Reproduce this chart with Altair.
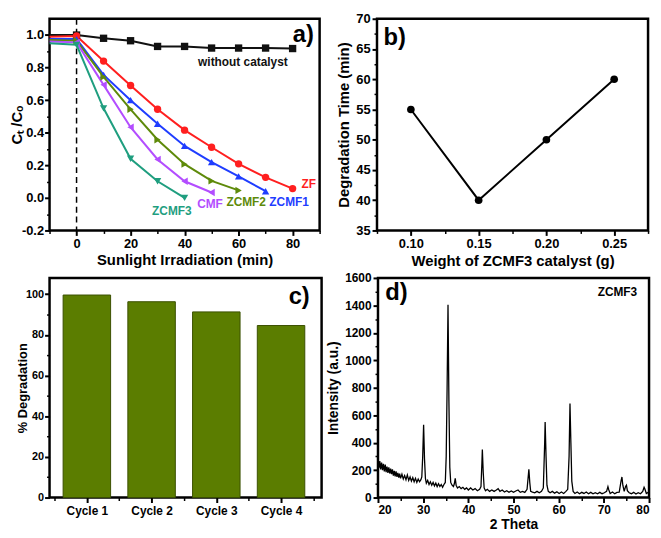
import altair as alt
import pandas as pd

FONT = "Liberation Sans"

# ---------------- panel a data ----------------
a_time = [-10, 0, 10, 20, 30, 40, 50, 60, 70, 80]
a_series = ["without catalyst", "ZF", "ZCMF1", "ZCMF2", "CMF", "ZCMF3"]
a_without = [1.0, 1.0, 0.98, 0.965, 0.93, 0.93, 0.92, 0.92, 0.92, 0.917]
a_zf = [0.99, 0.994, 0.84, 0.69, 0.544, 0.416, 0.311, 0.209, 0.126, 0.057]
a_zcmf1 = [0.975, 0.975, 0.755, 0.60, 0.455, 0.319, 0.22, 0.132, 0.041]
a_zcmf2 = [0.97, 0.965, 0.743, 0.544, 0.357, 0.207, 0.104, 0.046]
a_cmf = [0.96, 0.955, 0.694, 0.434, 0.236, 0.102, 0.033]
a_zcmf3 = [0.95, 0.94, 0.55, 0.24, 0.102, 0.0]
a_values = [a_without, a_zf, a_zcmf1, a_zcmf2, a_cmf, a_zcmf3]
a_colors = ["#111111", "#ff1f1f", "#1f3dff", "#5e8a0a", "#b34dff", "#1f9e7f"]
a_shapes = ["square", "circle", "triangle-up", "triangle-right", "triangle-left", "triangle-down"]
a_label_x = [61.6, 86.0, 78.7, 62.8, 49.4, 35.3]
a_label_y = [0.836, 0.085, -0.027, -0.027, -0.04, -0.08]

# ---------------- panel b data ----------------
b_weight = [0.10, 0.15, 0.20, 0.25]
b_time = [55, 40, 50, 60]

# ---------------- panel c data ----------------
c_cycles = ["Cycle 1", "Cycle 2", "Cycle 3", "Cycle 4"]
c_index = [1, 2, 3, 4]
c_degradation = [99.6, 96.3, 91.3, 84.6]

# ---------------- panel d data ----------------
d_theta = [20.0, 20.2, 20.4, 20.6, 20.8, 21.0, 21.2, 21.4, 21.6, 21.8, 22.0, 22.2, 22.4, 22.6, 22.8,
           23.0, 23.2, 23.4, 23.6, 23.8, 24.0, 24.2, 24.4, 24.6, 24.8, 25.0, 25.3, 25.6, 25.9, 26.2,
           26.5, 26.8, 27.1, 27.4, 27.7, 28.0, 28.3, 28.6, 28.9, 29.2, 29.5, 29.7, 29.9, 30.1, 30.3,
           30.5, 30.7, 31.0, 31.3, 31.6, 31.9, 32.2, 32.5, 32.8, 33.1, 33.4, 33.7, 34.0, 34.3, 34.6,
           34.9, 35.1, 35.3, 35.5, 35.7, 35.9, 36.1, 36.4, 36.7, 36.9, 37.1, 37.3, 37.6, 38.0, 38.4,
           38.8, 39.2, 39.6, 40.0, 40.5, 41.0, 41.5, 42.0, 42.5, 42.8, 43.0, 43.1, 43.3, 43.5, 43.8,
           44.2, 44.7, 45.2, 45.7, 46.2, 46.6, 47.0, 47.5, 48.0, 48.5, 49.0, 49.5, 50.0, 50.5, 51.0,
           51.5, 52.0, 52.5, 53.0, 53.3, 53.4, 53.6, 53.8, 54.2, 54.7, 55.2, 55.7, 56.2, 56.6, 56.9,
           57.0, 57.2, 57.4, 57.7, 58.1, 58.6, 59.1, 59.6, 60.1, 60.6, 61.1, 61.6, 62.0, 62.3, 62.5,
           62.7, 62.9, 63.2, 63.6, 64.1, 64.6, 65.1, 65.6, 66.1, 66.6, 67.1, 67.6, 68.1, 68.6, 69.1,
           69.6, 70.1, 70.6, 70.9, 71.1, 71.4, 71.9, 72.4, 72.9, 73.4, 73.8, 74.0, 74.2, 74.5, 74.8,
           75.0, 75.2, 75.6, 76.1, 76.6, 77.1, 77.6, 78.1, 78.6, 78.9, 79.1, 79.4, 79.8, 80.0]
d_intensity = [280, 215, 265, 205, 255, 200, 245, 190, 240, 185, 225, 180, 220, 175, 210,
               170, 205, 160, 195, 155, 190, 150, 180, 145, 175, 140, 170, 135, 160, 130,
               165, 125, 150, 120, 145, 115, 140, 110, 135, 115, 130, 150, 300, 530, 280,
               140, 105, 125, 95, 115, 90, 110, 85, 105, 80, 100, 80, 95, 75, 95,
               110, 300, 800, 1405, 700, 220, 110, 90, 80, 100, 140, 90, 70, 80, 65,
               75, 60, 70, 55, 70, 55, 65, 50, 60, 80, 250, 350, 180, 70, 50,
               60, 45, 55, 45, 55, 65, 45, 55, 40, 50, 38, 48, 38, 48, 55,
               38, 45, 38, 60, 170, 205, 110, 45, 40, 35, 45, 35, 45, 70, 400,
               550, 300, 90, 45, 35, 45, 32, 42, 30, 40, 30, 45, 60, 300, 685,
               400, 120, 45, 30, 40, 28, 38, 30, 40, 28, 38, 28, 36, 28, 38,
               28, 35, 45, 80, 55, 30, 40, 28, 38, 40, 120, 150, 90, 45, 80,
               90, 50, 35, 28, 38, 26, 36, 28, 45, 75, 60, 30, 38, 30]

# ---------------- shared styling ----------------
WA, WB, WC, WD = 273, 274, 275, 274
H1, H2 = 214, 222
LBL = dict(labelFont=FONT, labelFontWeight="bold", labelColor="black",
           titleFont=FONT, titleFontWeight="bold", titleColor="black",
           tickColor="black", domain=False, grid=False)


def ticksize(test, major=5, minor=3):
    return {"condition": {"test": test, "value": major}, "value": minor}


def tickwidth(test, major=2, minor=1.5):
    return {"condition": {"test": test, "value": major}, "value": minor}


# ================= panel a =================
rows = []
for name, vals in zip(a_series, a_values):
    for t, v in zip(a_time, vals):
        rows.append({"series": name, "t": t, "v": v})
df_a = pd.DataFrame(rows)
df_a_lab = pd.DataFrame({"series": a_series, "t": a_label_x, "v": a_label_y, "txt": a_series})

ta = "datum.value % 20 == 0"
tay = "round(datum.value * 10) % 2 == 0"
xa = alt.X("t:Q", scale=alt.Scale(domain=[-10, 90], nice=False, zero=False),
           axis=alt.Axis(values=list(range(-10, 91, 10)), labelExpr=f"{ta} ? datum.label : ''",
                         tickSize=ticksize(ta), tickWidth=tickwidth(ta), labelFontSize=13,
                         labelPadding=2, title="Sunlight Irradiation (min)", titleFontSize=15,
                         titlePadding=2, **LBL))
ya = alt.Y("v:Q", scale=alt.Scale(domain=[-0.2, 1.1], nice=False, zero=False),
           axis=alt.Axis(values=[round(-0.2 + 0.1 * i, 1) for i in range(13)], format=".1f",
                         labelExpr=f"{tay} ? replace(datum.label, '\u2212', '-') : ''",
                         tickSize=ticksize(tay), tickWidth=tickwidth(tay), labelFontSize=13,
                         labelPadding=1, title="C\u209c /C\u2092", titleFontSize=15,
                         titlePadding=-3, **LBL))
color_a = alt.Color("series:N", scale=alt.Scale(domain=a_series, range=a_colors), legend=None)
shape_a = alt.Shape("series:N", scale=alt.Scale(domain=a_series, range=a_shapes), legend=None)

base_a = alt.Chart(df_a)
rule_a = alt.Chart(pd.DataFrame({"t": [0]})).mark_rule(
    color="black", strokeDash=[6, 4], strokeWidth=1.5).encode(x=xa)
lines_a = base_a.mark_line(strokeWidth=2).encode(x=xa, y=ya, color=color_a, detail="series:N")
pts_a = base_a.transform_filter("datum.t >= 0").mark_point(
    filled=True, size=55, opacity=1).encode(x=xa, y=ya, color=color_a, shape=shape_a)
txt_a = alt.Chart(df_a_lab).mark_text(font=FONT, fontWeight="bold", fontSize=12).encode(
    x=xa, y=ya, text="txt:N", color=color_a)
tag_a = alt.Chart(pd.DataFrame({"t": [84.0], "v": [1.0], "txt": ["a)"]})).mark_text(
    font=FONT, fontWeight="bold", fontSize=24, color="black").encode(x=xa, y=ya, text="txt:N")
panel_a = alt.layer(rule_a, lines_a, pts_a, txt_a, tag_a).properties(width=WA, height=H1)

# ================= panel b =================
df_b = pd.DataFrame({"w": b_weight, "d": b_time})
tb = "round(datum.value * 100) % 5 == 0"
tby = "datum.value % 5 == 0"
xb = alt.X("w:Q", scale=alt.Scale(domain=[0.075, 0.275], nice=False, zero=False),
           axis=alt.Axis(values=[round(0.075 + 0.025 * i, 3) for i in range(9)], format=".2f",
                         labelExpr=f"{tb} ? datum.label : ''", tickSize=ticksize(tb),
                         tickWidth=tickwidth(tb), labelFontSize=13, labelPadding=2,
                         title="Weight of ZCMF3 catalyst (g)", titleFontSize=15, titlePadding=3, **LBL))
yb = alt.Y("d:Q", scale=alt.Scale(domain=[35, 70], nice=False, zero=False),
           axis=alt.Axis(values=[35 + 2.5 * i for i in range(15)],
                         labelExpr=f"{tby} ? datum.label : ''", tickSize=ticksize(tby),
                         tickWidth=tickwidth(tby), labelFontSize=13, labelPadding=2,
                         title="Degradation Time (min)", titleFontSize=15, titlePadding=4, **LBL))
line_b = alt.Chart(df_b).mark_line(color="black", strokeWidth=2).encode(x=xb, y=yb)
pts_b = alt.Chart(df_b).mark_circle(color="black", size=60, opacity=1).encode(x=xb, y=yb)
tag_b = alt.Chart(pd.DataFrame({"w": [0.088], "d": [66.8], "txt": ["b)"]})).mark_text(
    font=FONT, fontWeight="bold", fontSize=24, color="black").encode(x=xb, y=yb, text="txt:N")
panel_b = alt.layer(line_b, pts_b, tag_b).properties(width=WB, height=H1)

# ================= panel c =================
df_c = pd.DataFrame({"i": c_index, "p": c_degradation, "cycle": c_cycles})
cycle_expr = " : ".join(f"datum.value == {i} ? '{c}'" for i, c in zip(c_index, c_cycles)) + " : ''"
tc = "datum.value % 1 == 0"
tcy = "datum.value % 20 == 0"
xc = alt.X("i:Q", scale=alt.Scale(domain=[0.5, 4.55], nice=False, zero=False),
           axis=alt.Axis(values=[0.5 + 0.5 * k for k in range(9)], labelExpr=cycle_expr,
                         tickSize=ticksize(tc), tickWidth=tickwidth(tc), labelFontSize=12,
                         labelPadding=3, title=None, **LBL))
yc = alt.Y("p:Q", scale=alt.Scale(domain=[0, 108], nice=False, zero=False),
           axis=alt.Axis(values=list(range(0, 101, 10)), labelExpr=f"{tcy} ? datum.label : ''",
                         tickSize=ticksize(tcy), tickWidth=tickwidth(tcy), labelFontSize=11,
                         labelPadding=1, title="% Degradation", titleFontSize=13, titlePadding=-4, **LBL))
bars_c = alt.Chart(df_c).mark_bar(size=48, color="#5b7d00", stroke="#3b5000", strokeWidth=1).encode(
    x=xc, y=yc)
tag_c = alt.Chart(pd.DataFrame({"i": [4.28], "p": [98.5], "txt": ["c)"]})).mark_text(
    font=FONT, fontWeight="bold", fontSize=24, color="black").encode(x=xc, y=yc, text="txt:N")
panel_c = alt.layer(bars_c, tag_c).properties(width=WC, height=H2)

# ================= panel d =================
df_d = pd.DataFrame({"th": d_theta, "I": d_intensity})
td = "datum.value % 10 == 0"
tdy = "datum.value % 200 == 0"
xd = alt.X("th:Q", scale=alt.Scale(domain=[20, 80], nice=False, zero=False),
           axis=alt.Axis(values=list(range(20, 81, 5)), labelExpr=f"{td} ? datum.label : ''",
                         tickSize=ticksize(td), tickWidth=tickwidth(td), labelFontSize=12,
                         labelPadding=2, title="2 Theta", titleFontSize=14, titlePadding=2, **LBL))
yd = alt.Y("I:Q", scale=alt.Scale(domain=[0, 1600], nice=False, zero=False),
           axis=alt.Axis(values=list(range(0, 1601, 100)), format="d",
                         labelExpr=f"{tdy} ? datum.label : ''",
                         tickSize=ticksize(tdy), tickWidth=tickwidth(tdy), labelFontSize=12,
                         labelPadding=2, title="Intensity (a.u.)", titleFontSize=14, titlePadding=4, **LBL))
line_d = alt.Chart(df_d).mark_line(color="black", strokeWidth=1.3).encode(x=xd, y=yd)
txt_d = alt.Chart(pd.DataFrame({"th": [24.1, 73.0], "I": [1490, 1500], "txt": ["d)", "ZCMF3"],
                                "fs": [24, 12]})).mark_text(
    font=FONT, fontWeight="bold", color="black").encode(
    x=xd, y=yd, text="txt:N", size=alt.Size("fs:Q", scale=None, legend=None))
panel_d = alt.layer(line_d, txt_d).properties(width=WD, height=H2)

row1 = alt.hconcat(panel_a, panel_b, spacing=58, bounds="flush")
row2 = alt.hconcat(panel_c, panel_d, spacing=57, bounds="flush")
chart = alt.vconcat(row1, row2, spacing=0).properties(
    padding={"left": 0, "top": 0, "right": 0, "bottom": 0}, background="white"
).configure_view(stroke="black", strokeWidth=2.5)

chart.save("out.html", embed_options={"renderer": "svg", "actions": False})
